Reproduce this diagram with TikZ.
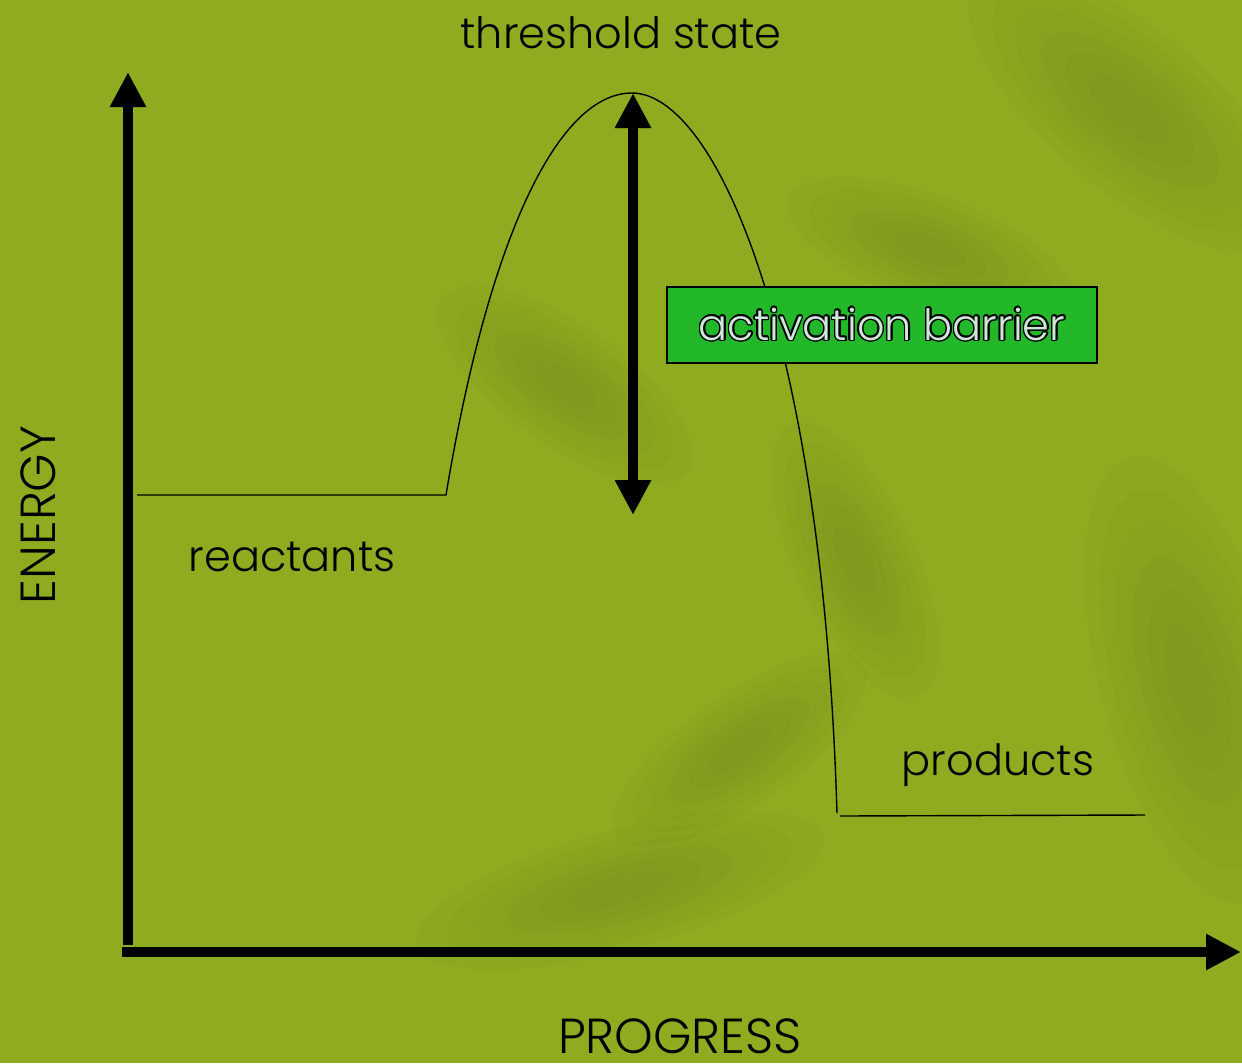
\documentclass[tikz,border=0pt]{standalone}
\usepackage{fontspec}
\setmainfont{Poppins Light}
\usepackage{contour}
\contourlength{0.035em}
\usetikzlibrary{arrows.meta}
\definecolor{bg}{RGB}{143,171,31}
\definecolor{blob}{RGB}{100,122,30}
\definecolor{boxgreen}{RGB}{34,184,41}
\definecolor{lettercol}{RGB}{205,232,215}
\newcommand\mysoftblob[5]{%
  \foreach \k in {1.0,0.85,0.7,0.55,0.4,0.25}{%
    \fill[blob, fill opacity=0.06, rotate around={#5:(#1,#2)}] (#1,#2) ellipse ({#3*\k} and {#4*\k});
  }}
\begin{document}
\begin{tikzpicture}[x=0.02cm,y=-0.02cm,
  axis/.style={line width=5.7pt,-{Triangle[length=0.7cm,width=0.68cm]}},
  barrierarrow/.style={line width=5.7pt,{Triangle[length=0.7cm,width=0.68cm]}-{Triangle[length=0.7cm,width=0.68cm]}},
  curve/.style={line width=0.8pt},
  lbl/.style={font=\fontsize{24.5}{30}\selectfont, inner sep=0pt},
  caplbl/.style={font=\fontsize{28}{32}\selectfont, inner sep=0pt},
  boxstyle/.style={draw=black, line width=1pt, fill=boxgreen, minimum width=8.6cm, minimum height=1.52cm, inner sep=0pt, font=\fontsize{24.5}{30}\selectfont}]
\useasboundingbox (0,0) rectangle (1242,1063);
\fill[bg] (0,0) rectangle (1242,1063);
% soft background blotches
\begin{scope}
\clip (0,0) rectangle (1242,1063);
\mysoftblob{565}{385}{150}{60}{-35}
\mysoftblob{855}{560}{150}{60}{-65}
\mysoftblob{1130}{110}{200}{80}{-40}
\mysoftblob{620}{890}{210}{60}{15}
\mysoftblob{1190}{680}{230}{90}{-75}
\mysoftblob{740}{750}{150}{55}{35}
\mysoftblob{930}{250}{150}{55}{-20}
\end{scope}
% coordinates
\coordinate (ybase) at (128,945);
\coordinate (ytop) at (128,72);
\coordinate (xbase) at (122,952);
\coordinate (xend) at (1241,952);
\coordinate (rstart) at (137,495);
\coordinate (rend) at (446,495);
\coordinate (peak) at (632,93);
\coordinate (dropend) at (837,813);
\coordinate (pstart) at (840,816);
\coordinate (pend) at (1145,815);
\coordinate (barrtop) at (633,93);
\coordinate (barrbot) at (633,515);
% curve
\draw[curve] (rstart) -- (rend) .. controls (490,230) and (560,93) .. (peak)
  .. controls (712,93) and (822,320) .. (dropend);
\draw[curve] (pstart) -- (pend);
% axes
\draw[axis] (ybase) -- (ytop);
\draw[axis] (xbase) -- (xend);
% barrier arrow
\draw[barrierarrow] (barrbot) -- (barrtop);
% box
\node[boxstyle] (barrier) at (882,325) {\contour{black}{\textcolor{lettercol}{activation barrier}}};
% labels
\node[lbl] (threshold) at (621,33) {threshold state};
\node[lbl] (reactants) at (292,557) {reactants};
\node[lbl] (products) at (998,765) {products};
\node[caplbl, rotate=90] (energy) at (38,515) {ENERGY};
\node[caplbl] (progress) at (680,1036) {PROGRESS};
\end{tikzpicture}
\end{document}
